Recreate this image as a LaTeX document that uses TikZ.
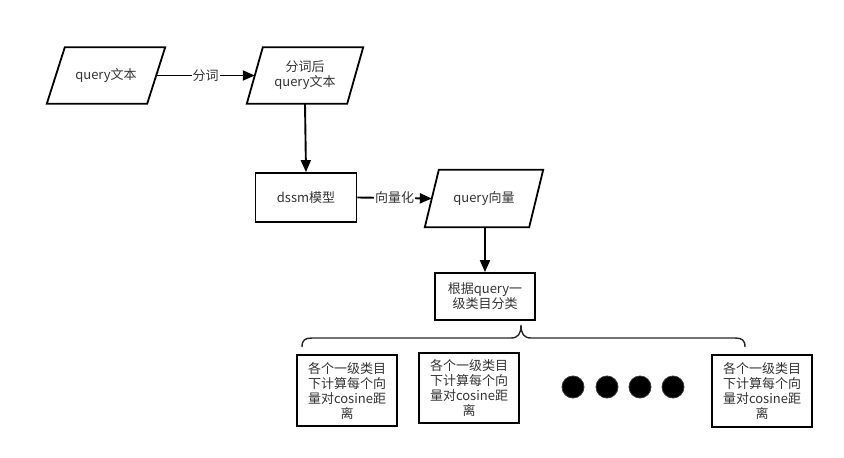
\documentclass[tikz,border=0pt]{standalone}
\usepackage{fontspec}
\setmainfont{Noto Sans CJK SC}
\usetikzlibrary{arrows.meta}
\definecolor{txt}{HTML}{333333}
\tikzset{
  base/.style={inner sep=0pt, align=center, text=txt, font=\fontsize{13}{15}\selectfont},
  box/.style={base, draw=black, line width=1.8pt},
  ghost/.style={base, draw=none},
  conn/.style={draw=black, line width=1.9pt, -{Triangle[length=12pt,width=10pt]}},
  elabel/.style={fill=white, inner sep=1pt, text=txt, font=\fontsize{13}{15}\selectfont},
  para/.style={draw=black, line width=1.8pt, line join=miter},
  dot/.style={fill=black, draw=black!80, line width=0.8pt}
}
\begin{document}
\begin{tikzpicture}[x=1pt,y=-1pt]
\useasboundingbox (0,0) rectangle (844,458);
% parallelogram nodes (invisible frames) and outlines
\node[ghost, minimum width=100pt, minimum height=56pt] (p1) at (106,75.5) {query文本};
\draw[para] ([xshift=9pt]p1.north west) -- ([xshift=9pt]p1.north east) -- ([xshift=-9pt]p1.south east) -- ([xshift=-9pt]p1.south west) -- cycle;
\node[ghost, minimum width=100pt, minimum height=56pt] (p2) at (305,75.5) {分词后\\query文本};
\draw[para] ([xshift=8pt]p2.north west) -- ([xshift=8pt]p2.north east) -- ([xshift=-8pt]p2.south east) -- ([xshift=-8pt]p2.south west) -- cycle;
\node[box, minimum width=101pt, minimum height=49pt] (dssm) at (306,197.5) {dssm模型};
\node[ghost, minimum width=104pt, minimum height=57pt] (q) at (484,198.5) {query向量};
\draw[para] ([xshift=7pt]q.north west) -- ([xshift=7pt]q.north east) -- ([xshift=-7pt]q.south east) -- ([xshift=-7pt]q.south west) -- cycle;
\node[box, minimum width=100pt, minimum height=47pt] (cls) at (485,296.5) {根据query一\\级类目分类};
% connectors
\draw[conn] (p1.east) -- node[elabel] {分词} (p2.west);
\draw[conn] (p2.south) -- (dssm.north);
\draw[conn] (dssm.east) -- node[elabel] {向量化} (q.west);
\draw[conn] (q.south -| cls.north) -- (cls.north);
% brace
\draw[black!85, line width=1.4pt]
  (302,347) .. controls (302,340) and (305,338) .. (312,338) -- (511,338)
  .. controls (518,338) and (521,334) .. (521,325)
  .. controls (521,334) and (524,338) .. (531,338) -- (735,338)
  .. controls (742,338) and (745,340) .. (745,347);
% bottom boxes
\node[box, minimum width=100pt, minimum height=71pt] (b1) at (347,390.5) {各个一级类目\\下计算每个向\\量对cosine距\\离};
\node[box, minimum width=100pt, minimum height=70pt] (b2) at (469,388) {各个一级类目\\下计算每个向\\量对cosine距\\离};
\node[box, minimum width=100pt, minimum height=72pt] (b4) at (762,391) {各个一级类目\\下计算每个向\\量对cosine距\\离};
% dots
\foreach \x/\n in {573/d1,607/d2,640/d3,673/d4}
  \node[dot, circle, minimum size=22pt, inner sep=0pt] (\n) at (\x,387) {};
\end{tikzpicture}
\end{document}
